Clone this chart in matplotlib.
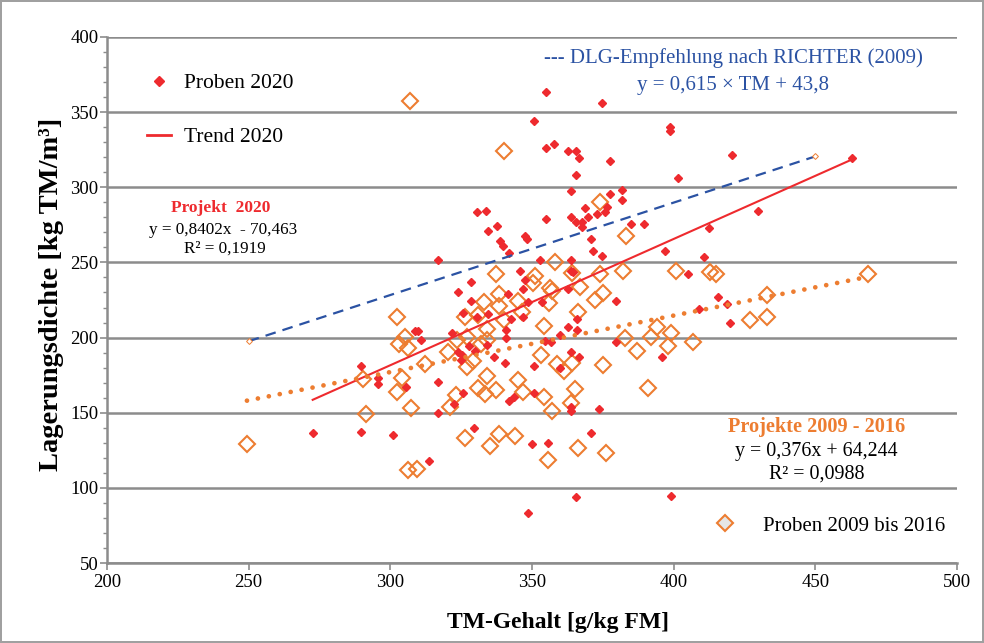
import matplotlib
matplotlib.use("Agg")
import matplotlib.pyplot as plt
import numpy as np
from matplotlib.lines import Line2D
from matplotlib.ticker import MultipleLocator

plt.rcParams['font.family'] = ['Liberation Serif', 'DejaVu Serif']

# Proben 2020 (TM-Gehalt, Lagerungsdichte)
tm_2020 = [272.6, 289.5, 300.8, 313.6, 289.5, 295.6, 295.6, 308.7, 309.9, 310.8,
           305.5, 316.8, 316.8, 321.9, 323.9, 325.4, 324.8, 323.8, 328.5, 328.5,
           325.8, 330.6, 334.6, 341.8, 330.7, 333.8, 334.6, 337.8, 338.7, 339.6,
           347.7, 348.1, 316.7, 352.7, 354.8, 350.7, 354.8, 354.8, 374.8, 357.9,
           362.8, 365.7, 366.5, 377.6, 398.8, 398.8, 420.7, 401.7, 365.5, 363.7,
           381.8, 381.8, 377.6, 376.6, 375.7, 372.8, 369.6, 368.7, 363.7, 365.7,
           367.6, 367.8, 370.8, 371.6, 374.8, 384.8, 389.7, 363.7, 396.8, 410.8,
           412.6, 429.9, 462.8, 345.8, 347.6, 346.7, 341.7, 363.8, 364.6, 362.8,
           353.4, 348.7, 379.6, 415.8, 404.9, 418.7, 408.9, 419.9, 346.7, 342.5,
           340.8, 365.8, 362.8, 365.8, 359.9, 354.6, 356.8, 379.6, 395.8, 340.8,
           340.6, 350.6, 359.9, 363.7, 366.7, 327.9, 329.8, 334.0, 336.7, 325.5,
           322.6, 341.9, 343.7, 350.6, 363.7, 363.7, 373.6, 329.7, 370.8, 349.9,
           355.8, 365.7, 398.9, 348.7]
ld_2020 = [136.3, 137.0, 135.2, 118.1, 181.3, 173.3, 168.9, 204.4, 204.7, 198.4,
           167.3, 170.2, 150.1, 203.2, 190.1, 188.4, 185.1, 230.5, 237.2, 224.3,
           216.3, 213.7, 215.5, 256.1, 283.3, 284.2, 271.1, 274.2, 264.3, 260.9,
           267.9, 265.9, 251.6, 251.6, 278.6, 344.3, 326.3, 363.2, 356.3, 328.6,
           324.3, 324.3, 319.3, 317.5, 340.4, 337.4, 321.3, 306.2, 308.2, 297.3,
           298.2, 291.3, 295.3, 287.1, 283.3, 282.1, 280.4, 286.4, 280.4, 277.1,
           277.1, 273.6, 265.4, 257.5, 254.4, 275.6, 275.6, 251.6, 257.3, 253.3,
           272.6, 284.2, 319.3, 244.3, 238.3, 232.2, 229.3, 244.6, 243.5, 232.0,
           223.7, 223.9, 224.3, 227.2, 242.3, 222.3, 219.2, 209.5, 213.9, 212.2,
           205.0, 212.2, 207.2, 205.0, 201.4, 198.0, 197.0, 197.2, 187.3, 199.5,
           183.3, 180.9, 179.5, 190.5, 187.3, 194.1, 191.3, 195.1, 187.1, 162.9,
           155.6, 158.0, 160.5, 162.9, 154.0, 151.0, 152.3, 140.0, 136.3, 129.2,
           130.0, 94.1, 94.8, 83.1]

# Proben 2009 bis 2016
tm_alt = [306.9, 340.1, 249.4, 337.2, 350.9, 350.2, 302.2, 305.2, 303.1, 306.3,
          312.2, 304.2, 302.2, 307.3, 291.3, 290.5, 306.1, 309.3, 326.2, 330.9,
          333.2, 338.2, 338.4, 345.2, 340.2, 346.4, 334.0, 323.4, 327.0, 334.0,
          331.9, 320.2, 329.3, 327.1, 334.1, 345.2, 346.9, 331.1, 333.5, 337.2,
          323.2, 321.1, 354.1, 353.3, 354.1, 326.4, 335.2, 338.3, 344.1, 355.8,
          358.1, 356.4, 357.0, 356.1, 366.9, 364.0, 374.0, 382.0, 400.8, 412.8,
          414.9, 468.7, 432.8, 426.8, 432.8, 375.2, 372.1, 366.1, 394.0, 398.9,
          392.0, 382.9, 398.1, 406.9, 386.9, 375.2, 358.7, 361.3, 364.0, 365.2,
          363.9, 357.2, 391.0, 366.1, 376.0, 374.0, 383.1]
ld_alt = [357.4, 324.3, 129.0, 242.3, 241.0, 236.0, 213.5, 200.2, 195.6, 192.9,
          182.7, 173.3, 163.6, 153.3, 149.0, 172.1, 111.9, 112.3, 213.5, 215.3,
          223.9, 228.7, 221.2, 224.3, 211.5, 217.2, 205.9, 198.4, 200.2, 198.4,
          195.5, 190.1, 184.1, 180.7, 174.4, 171.6, 163.8, 166.2, 162.2, 165.1,
          162.0, 154.0, 160.5, 188.3, 207.4, 133.2, 128.0, 136.0, 134.2, 118.3,
          250.1, 232.8, 231.3, 222.8, 233.4, 243.0, 242.4, 244.6, 244.5, 243.4,
          242.3, 242.3, 228.3, 211.7, 213.9, 229.5, 224.8, 217.2, 206.7, 202.8,
          200.6, 199.5, 194.4, 197.0, 191.1, 181.7, 182.1, 177.9, 183.1, 165.6,
          156.3, 150.9, 166.2, 126.7, 123.0, 290.0, 267.8]

# Regressionen / Empfehlung
trend_2020 = (0.8402, -70.463)
trend_alt = (0.376, 64.244)
dlg = (0.615, 43.8)
dlg_range = [250, 450]

red = '#ee2a2e'
orange = '#ed7d31'
blue = '#2b52a3'
grid_grey = '#8c8c8c'

fig = plt.figure(figsize=(9.84, 6.43), dpi=100)
fig.patch.set_edgecolor('#a0a0a0')
fig.patch.set_linewidth(1.5)
ax = fig.add_axes([0.1087, 0.1244, 0.8639, 0.8181])

ax.plot(tm_alt, ld_alt, linestyle='none', marker='D', markersize=8,
        markerfacecolor='none', markeredgecolor=orange, markeredgewidth=1.5, zorder=3)
ax.plot(tm_2020, ld_2020, linestyle='none', marker='D', markersize=4,
        color=red, zorder=4)

# Trendlinie 2020 über den Bereich der Proben
x1 = np.array([min(tm_2020), max(tm_2020)])
ax.plot(x1, trend_2020[0] * x1 + trend_2020[1], color=red, lw=1.5, zorder=5)

# Trendlinie 2009-2016 (gepunktet)
x2 = np.array([min(tm_alt), max(tm_alt)])
ax.plot(x2, trend_alt[0] * x2 + trend_alt[1], color=orange, lw=3.4,
        linestyle=(0, (0.01, 2.35)), dash_capstyle='round', zorder=5)

# DLG-Empfehlung
x3 = np.array(dlg_range)
ax.plot(x3, dlg[0] * x3 + dlg[1], color=blue, lw=1.6,
        linestyle=(0, (4.8, 3.2)), marker='D', markersize=3,
        markerfacecolor='white', markeredgecolor=orange, markeredgewidth=0.7, zorder=5)

ax.set_xlim(200, 500)
ax.set_ylim(50, 400)
ax.xaxis.set_major_locator(MultipleLocator(50))
ax.yaxis.set_major_locator(MultipleLocator(50))
ax.yaxis.set_minor_locator(MultipleLocator(10))
ax.grid(axis='y', color=grid_grey, lw=1.8, zorder=0)
ax.set_axisbelow(True)
for side in ['top', 'right']:
    ax.spines[side].set_visible(False)
for side in ['left', 'bottom']:
    ax.spines[side].set_color(grid_grey)
    ax.spines[side].set_linewidth(1.8)
ax.tick_params(axis='both', which='major', direction='out', length=5,
               width=1.2, color=grid_grey, labelsize=13.5)
ax.tick_params(axis='y', which='major', pad=1)
ax.tick_params(axis='x', which='major', pad=3)
ax.tick_params(axis='y', which='minor', direction='out', length=3,
               width=1, color=grid_grey)

ax.set_xlabel('TM-Gehalt [g/kg FM]', fontsize=17, fontweight='bold')
ax.set_ylabel('Lagerungsdichte [kg TM/m³]', fontsize=20.5, fontweight='bold')
ax.xaxis.set_label_coords(0.530, -0.093)
ax.yaxis.set_label_coords(-0.051, 0.51)

# Beschriftungen
ax.text(421, 385.8, '--- DLG-Empfehlung nach RICHTER (2009)', color=blue,
        fontsize=15, ha='center', va='center')
ax.text(421, 367.6, 'y = 0,615 × TM + 43,8', color=blue,
        fontsize=15, ha='center', va='center')

ax.text(240.0, 286.5, 'Projekt  2020', color=red, fontsize=12.5,
        fontweight='bold', ha='center', va='center')
ax.text(240.9, 271.6, 'y = 0,8402x  - 70,463', color='black', fontsize=12.3,
        ha='center', va='center')
ax.text(241.5, 259.0, 'R² = 0,1919', color='black', fontsize=12.3,
        ha='center', va='center')

ax.text(450.6, 140.3, 'Projekte 2009 - 2016', color=orange, fontsize=14.6,
        fontweight='bold', ha='center', va='center')
ax.text(450.4, 124.4, 'y = 0,376x + 64,244', color='black', fontsize=14.4,
        ha='center', va='center')
ax.text(450.6, 109.0, 'R² = 0,0988', color='black', fontsize=14.4,
        ha='center', va='center')

# Legenden
h_red = Line2D([], [], linestyle='none', marker='D', markersize=5.5, color=red)
h_trend = Line2D([], [], color=red, lw=2)
leg1 = ax.legend([h_red, h_trend], ['Proben 2020', 'Trend 2020'],
                 loc='upper left', bbox_to_anchor=(147 / 984, 1 - 73 / 643),
                 bbox_transform=fig.transFigure, frameon=False, fontsize=15.5,
                 handlelength=1.1, handletextpad=0.62, labelspacing=1.58,
                 borderpad=0, borderaxespad=0)
ax.add_artist(leg1)
h_alt = Line2D([], [], linestyle='none', marker='D', markersize=8,
               markerfacecolor='#e6e6e6', markeredgecolor=orange, markeredgewidth=1.5)
ax.legend([h_alt], ['Proben 2009 bis 2016'], loc='upper left',
          bbox_to_anchor=(714 / 984, 1 - 516 / 643), bbox_transform=fig.transFigure,
          frameon=False, fontsize=15, handlelength=1.06, handletextpad=1.3,
          borderpad=0, borderaxespad=0)

fig.savefig('out.png', dpi=100)
